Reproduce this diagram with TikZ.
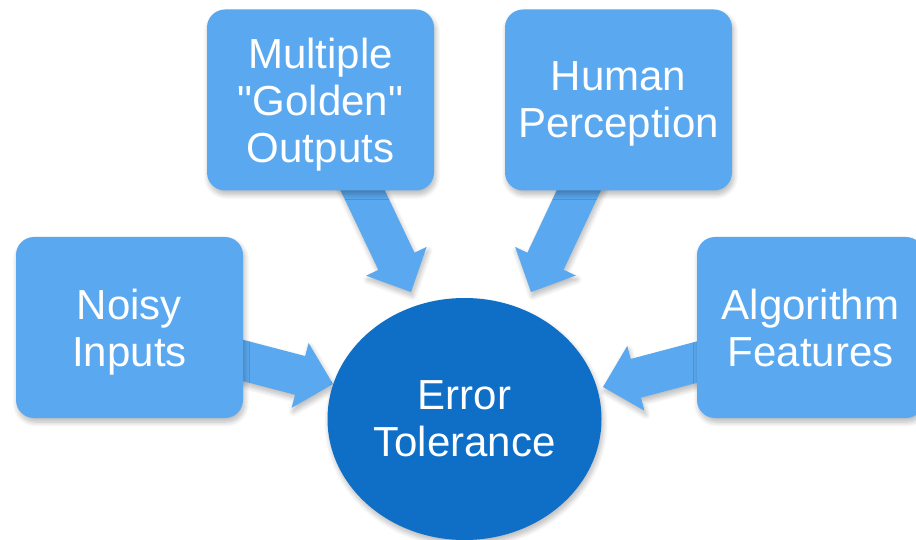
\documentclass[tikz,border=0pt]{standalone}
\usepackage{fontspec}
\setmainfont{Liberation Sans}[Ligatures=TeXOff]
\usetikzlibrary{calc,shapes.geometric,shadows.blur}

\definecolor{boxblue}{RGB}{90,169,240}
\definecolor{coreblue}{RGB}{15,110,198}

\tikzset{
  soft/.style={blur shadow={shadow xshift=1.5pt, shadow yshift=-4pt,
      shadow blur steps=8, shadow opacity=28, shadow blur radius=5pt}},
  factor/.style={rectangle, rounded corners=18pt, fill=boxblue, text=white,
      minimum width=227pt, minimum height=181pt, inner sep=0pt, align=center,
      text depth=0pt, font=\fontsize{42}{47}\selectfont, soft},
  core/.style={ellipse, fill=coreblue, text=white, minimum width=274pt,
      minimum height=242pt, inner sep=0pt, align=center,
      font=\fontsize{42}{47}\selectfont, soft},
  blockfill/.style={fill=boxblue, soft}
}

% block arrow from #1 (tail, hidden under its box) to #2 (tip)
\newcommand\blockarrow[2]{%
  \path coordinate (hb) at ($(#2)!34pt!(#1)$);
  \fill[blockfill] ($(#1)!20pt!90:(#2)$) -- ($(hb)!20pt!90:(#2)$)
    -- ($(hb)!33.5pt!90:(#2)$) -- (#2) -- ($(hb)!33.5pt!-90:(#2)$)
    -- ($(hb)!20pt!-90:(#2)$) -- ($(#1)!20pt!-90:(#2)$) -- cycle;
}

\begin{document}
\begin{tikzpicture}[x=1pt, y=-1pt]
  \useasboundingbox (0,0) rectangle (916,540);

  % tails and tips of the four block arrows
  \coordinate (noisyT) at (223.6,355.4);
  \coordinate (noisyH) at (333,384);
  \coordinate (goldT) at (354.4,173);
  \coordinate (goldH) at (411,292);
  \coordinate (humanT) at (587,173);
  \coordinate (humanH) at (531,292);
  \coordinate (algoT) at (716,357);
  \coordinate (algoH) at (603,387);

  \blockarrow{noisyT}{noisyH}
  \blockarrow{goldT}{goldH}
  \blockarrow{humanT}{humanH}
  \blockarrow{algoT}{algoH}

  \node[factor] (noisy) at (129.5,327.5) {Noisy\\Inputs};
  \node[factor] (golden) at (320.5,100) {Multiple\\"Golden"\\Outputs};
  \node[factor] (human) at (618.5,100) {Human\\Perception};
  \node[factor] (algo) at (810.5,327.5) {Algorithm\\Features};

  \node[core] (tol) at (464.5,419) {Error\\Tolerance};
\end{tikzpicture}
\end{document}
